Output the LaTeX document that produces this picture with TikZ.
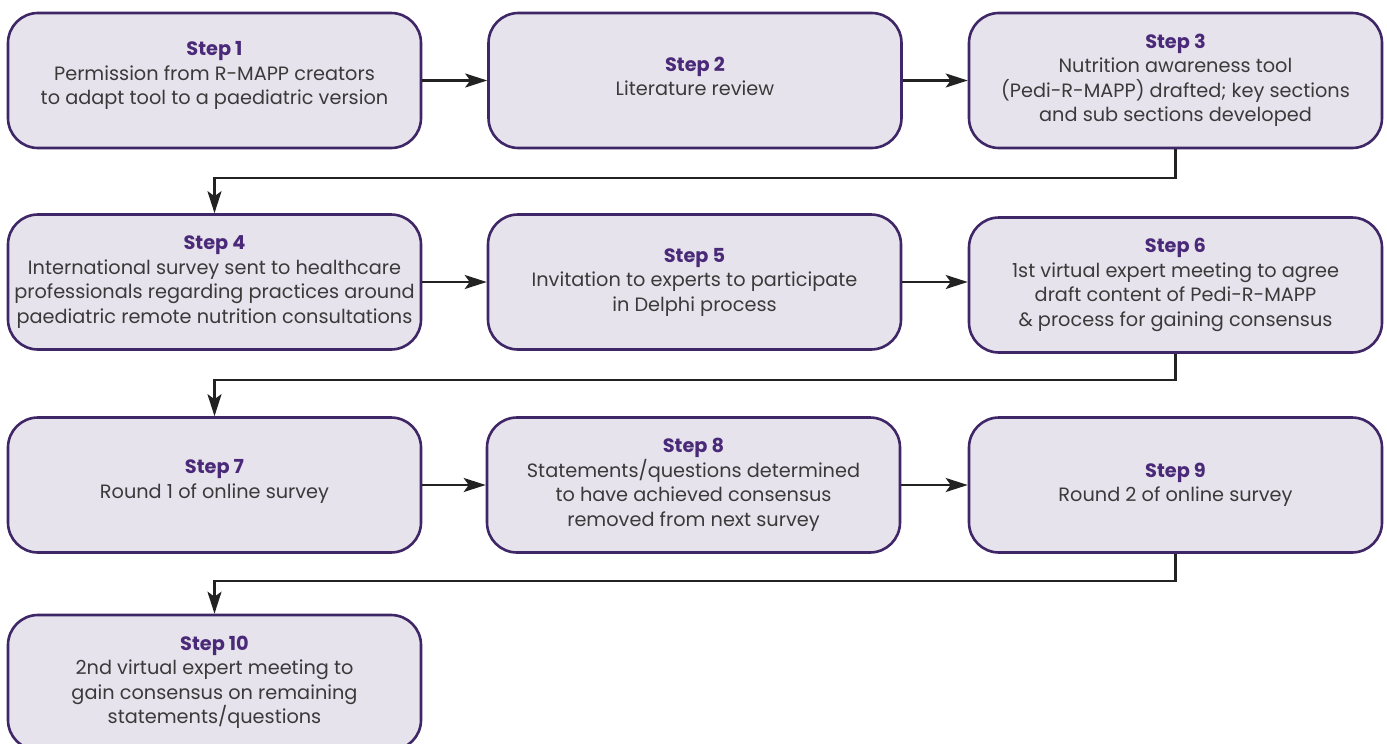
\documentclass[tikz,border=0pt]{standalone}
\usepackage{fontspec}
\setmainfont{Poppins}
\usetikzlibrary{arrows.meta}
\definecolor{boxfill}{HTML}{E6E3EC}
\definecolor{boxline}{HTML}{3F2666}
\definecolor{stepc}{HTML}{4A2A78}
\definecolor{txt}{HTML}{3A3A3A}
\definecolor{arrc}{HTML}{222222}
\tikzset{
  stepbox/.style={draw=boxline, fill=boxfill, line width=2.6pt, rounded corners=30pt,
    minimum width=413pt, minimum height=135pt, align=center, inner sep=0pt,
    text=txt, font=\fontsize{19.3}{24.5}\selectfont},
  arr/.style={draw=arrc, line width=2.4pt, -{Stealth[length=22pt,width=14pt,inset=5pt]}},
}
\newcommand{\stp}[1]{{\color{stepc}\bfseries Step #1}}
\begin{document}
\begin{tikzpicture}[x=1pt,y=-1pt]
\useasboundingbox[fill=white] (0,0) rectangle (1387,744);
\node[stepbox] (s1) at (214.5,80.5) {\stp{1}\\Permission from R-MAPP creators\\to adapt tool to a paediatric version\\[-10pt]\mbox{}};
\node[stepbox] (s2) at (695,80.5) {\stp{2}\\Literature review\\[-16pt]\mbox{}};
\node[stepbox] (s3) at (1175.5,80.5) {\stp{3}\\Nutrition awareness tool\\(Pedi-R-MAPP) drafted; key sections\\and sub sections developed};
\node[stepbox] (s4) at (214.5,282) {\stp{4}\\International survey sent to healthcare\\professionals regarding practices around\\paediatric remote nutrition consultations};
\node[stepbox] (s5) at (694.5,282) {\stp{5}\\Invitation to experts to participate\\in Delphi process};
\node[stepbox] (s6) at (1175.5,285) {\stp{6}\\1st virtual expert meeting to agree\\draft content of Pedi-R-MAPP\\\& process for gaining consensus};
\node[stepbox] (s7) at (214.5,485) {\stp{7}\\Round 1 of online survey\\[-12pt]\mbox{}};
\node[stepbox] (s8) at (693.5,485) {\stp{8}\\Statements/questions determined\\to have achieved consensus\\removed from next survey};
\node[stepbox] (s9) at (1175.5,485) {\stp{9}\\Round 2 of online survey};
\node[stepbox] (s10) at (214.5,682.5) {\stp{10}\\2nd virtual expert meeting to\\gain consensus on remaining\\statements/questions};
\draw[arr] (s1.east) -- (s2.west);
\draw[arr] (s2.east) -- (s3.west);
\draw[arr] (s4.east) -- (s5.west);
\draw[arr] (s5.east) -- (s5.east -| s6.west);
\draw[arr] (s7.east) -- (s8.west);
\draw[arr] (s8.east) -- (s9.west);
\coordinate (c1) at (1176,178);
\coordinate (c2) at (1176,380);
\coordinate (c3) at (1176,581);
\draw[arr] (s3.south) -- (s3.south |- c1) -| (s4.north);
\draw[arr] (s6.south) -- (s6.south |- c2) -| (s7.north);
\draw[arr] (s9.south) -- (s9.south |- c3) -| (s10.north);
\end{tikzpicture}
\end{document}
